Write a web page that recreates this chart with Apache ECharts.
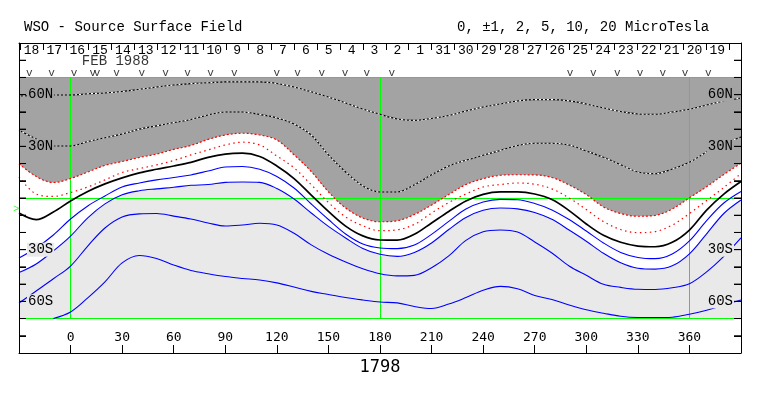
<!DOCTYPE html>
<html><head><meta charset="utf-8">
<script src="https://cdn.jsdelivr.net/npm/echarts@6/dist/echarts.min.js"></script>
<style>html,body{margin:0;padding:0;background:#fff}#c{width:763px;height:396px}</style>
</head><body><div id="c"></div>
<script>
// ---------- data ----------
const lons = [-30,-20,-10,0,10,20,30,40,50,60,70,80,90,100,110,120,130,140,150,160,170,180,190,200,210,220,230,240,250,260,270,280,290,300,310,320,330,340,350,360,370,380,390];
const contourPos10 = [59.2,59.5,59.8,59.8,60.5,61.0,61.8,63.1,64.4,65.6,66.4,66.9,67.4,67.4,67.4,66.5,64.5,61.7,58.6,55.2,51.7,48.6,45.9,45.1,46.2,47.9,50.5,52.8,54.6,56.3,57.1,57.1,56.4,54.6,52.3,50.2,48.8,48.6,49.9,51.5,54.0,56.3,58.1];
const contourPos5 = [39.3,34.3,30.2,30.2,32.8,35.0,37.2,40.0,41.9,43.8,45.6,48.2,49.9,49.9,48.5,46.5,43.0,36.6,25.0,15.1,7.0,3.5,3.5,7.7,13.5,18.6,21.9,24.8,27.6,30.5,31.8,31.8,30.8,27.3,23.6,19.3,15.1,14.1,16.8,20.7,26.7,31.4,35.4];
const contourPos2 = [19.9,12.5,9.0,11.3,15.1,18.9,21.2,23.5,25.5,28.2,30.5,34.0,36.6,37.6,36.6,33.7,25.1,15.4,3.6,-5.8,-11.6,-13.8,-13.2,-9.6,-4.1,2.0,7.8,11.2,13.2,13.5,13.4,11.9,7.6,2.0,-5.2,-9.0,-10.6,-10.1,-6.4,0.1,6.6,13.6,20.3];
const contourPos1 = [12.3,2.3,0.9,3.2,6.4,10.5,14.8,17.1,19.2,21.8,25.0,27.9,30.8,32.4,30.8,24.4,17.5,7.7,-2.6,-11.0,-16.1,-19.0,-18.5,-15.3,-8.7,-2.6,2.3,6.4,7.8,8.7,8.0,5.3,0,-6.7,-13.7,-18.3,-20.1,-19.5,-15.7,-9.0,-1.5,6.1,14.2];
const contourZero = [-8.7,-12.5,-8.1,-1.7,3.8,8.2,11.7,14.6,16.7,18.6,20.7,23.6,25.5,26.0,24.1,18.6,11.3,1.7,-7.8,-16.3,-22.0,-24.4,-24.5,-21.1,-14.5,-7.8,-1.7,2.1,3.5,3.5,2.3,-0.9,-7.3,-15.1,-21.7,-25.7,-27.9,-28.3,-25.7,-18.6,-7.0,2.3,9.6];
const contourNeg1 = [-34.8,-29.0,-21.5,-12.2,-4.6,1.2,6.4,8.7,10.5,11.9,13.4,15.7,18.0,18.3,16.7,12.5,5.8,-3.5,-12.5,-20.9,-26.7,-29.0,-29.4,-27.3,-21.1,-13.6,-6.4,-2.3,-0.8,-1.0,-3.2,-6.9,-12.5,-19.2,-26.1,-31.6,-34.5,-35.2,-32.5,-24.9,-13.1,-2.9,3.8];
const contourNeg2 = [-43.3,-38.3,-30.7,-22.1,-11.5,-3.4,1.9,4.2,5.3,6.2,7.4,7.8,9.1,9.3,9.1,5.5,-0.6,-8.7,-16.5,-23.2,-29.3,-32.7,-33.9,-31.6,-26.1,-18.3,-11.3,-7.1,-5.8,-6.3,-8.4,-12.4,-18.6,-25.1,-32.1,-37.6,-40.8,-41.3,-39.4,-32.4,-20.8,-9.0,-1.2];
const contourNeg5 = [-61.0,-54.0,-46.9,-39.5,-27.9,-17.4,-11.0,-9.2,-9.0,-10.5,-12.2,-14.5,-16.3,-15.7,-14.7,-15.7,-20.5,-27.2,-32.7,-37.2,-41.1,-44.0,-45.2,-44.9,-40.5,-33.6,-24.6,-19.6,-18.6,-19.8,-25.5,-31.9,-39.5,-44.9,-50.1,-51.9,-53.0,-53.1,-52.1,-49.8,-42.9,-33.9,-23.2];
const contourNeg10 = [null,null,-70.0,-66.2,-58.0,-48.7,-37.7,-33.4,-35.1,-38.9,-42.1,-44.0,-45.6,-46.7,-47.6,-49.3,-51.7,-54.2,-56.0,-57.8,-59.2,-60.4,-60.9,-63.0,-64.2,-61.6,-57.8,-53.6,-51.3,-52.7,-56.6,-58.9,-62.1,-64.9,-66.9,-68.7,-69.4,-69.4,-69.2,-67.5,-65.2,-62.1,-59.2];

const lonTickValues = [0,30,60,90,120,150,180,210,240,270,300,330,360];
const latTickValues = [-80,-70,-60,-50,-40,-30,-20,-10,0,10,20,30,40,50,60,70,80];
const latLabelValues = [60,30,-30,-60];
const latLabelTexts = ['60N','30N','30S','60S'];
const dayLabels = ['18','17','16','15','14','13','12','11','10','9','8','7','6','5','4','3','2','1','31','30','29','28','27','26','25','24','23','22','21','20','19'];
const dayStartLon = -29.4, dayStepLon = 13.3;
const obsMarkLons = [-24.0,-11.0,2.0,13.0,15.4,26.8,41.4,55.3,68.1,81.5,95.2,119.9,132.1,146.1,159.6,172.3,186.8,290.5,304.1,318.0,331.3,344.5,357.5,371.0];
const monthLabel = 'FEB 1988';
const rotationLabel = '1798';
const titleLeft = 'WSO - Source Surface Field';
const titleRight = '0, \u00b11, 2, 5, 10, 20 MicroTesla';
const refMeridians = [0,180,360];
const refLats = [70,0,-70];
const lonMin = -30, lonMax = 390, latMin = -90, latMax = 90, latStep = 10, plotLatMin = -70, plotLatMax = 70;

// ---------- layout / style ----------
const MONO = 'Liberation Mono';
const SANSMONO = 'DejaVu Sans Mono';
const DARK = '#a3a3a3', LIGHT = '#e9e9e9', GREEN = '#00ff00', BLUE = '#0000ff', RED = '#ff0000';
const GRID = {left:19, right:22, top:43, bottom:43};
const GRID_W = 763 - GRID.left - GRID.right;
const Y_TICK_LEN_PX = 7;
const yTickLenLon = Y_TICK_LEN_PX * (lonMax - lonMin) / GRID_W;
const snap = v => Math.round(v - 0.5) + 0.5;

const pts = arr => lons.map((x, i) => [x, arr[i]]);
const dayTickLons = [];
for (let k = 0; k <= dayLabels.length; k++) dayTickLons.push(+(dayStartLon + k * dayStepLon).toFixed(3));
const dayLabelLons = dayLabels.map((d, k) => +(dayStartLon + (k + 0.5) * dayStepLon).toFixed(3));

const series = [];
// fills
series.push({type:'line', data: pts(contourPos2), smooth:0.35, symbol:'none', silent:true, z:1,
  lineStyle:{width:0, opacity:0}, areaStyle:{color:DARK, opacity:1, origin: plotLatMax}});
series.push({type:'line', data: pts(contourNeg2), smooth:0.35, symbol:'none', silent:true, z:1,
  lineStyle:{width:0, opacity:0}, areaStyle:{color:LIGHT, opacity:1, origin: plotLatMin}});
// reference green lines (meridians then parallels), pixel-snapped
series.push({type:'custom', silent:true, z:2, data: refMeridians.map(m => [m, 0]), encode:{x:0, y:1},
  renderItem: (p, api) => { const a = api.coord([api.value(0), plotLatMin]), b = api.coord([api.value(0), plotLatMax]); const x = snap(a[0]);
    return {type:'line', shape:{x1:x, y1:a[1], x2:x, y2:b[1]}, style:{stroke:GREEN, lineWidth:1}}; }});
series.push({type:'custom', silent:true, z:2, data: refLats.map(l => [0, l]), encode:{x:0, y:1},
  renderItem: (p, api) => { const a = api.coord([lonMin, api.value(1)]), b = api.coord([lonMax, api.value(1)]); const y = snap(a[1]);
    return {type:'line', shape:{x1:a[0], y1:y, x2:b[0], y2:y}, style:{stroke:GREEN, lineWidth:1}}; }});
// contours
function contour(arr, style){ series.push({type:'line', data: pts(arr), smooth:0.35, symbol:'none', silent:true, z:3, connectNulls:false, lineStyle: style}); }
[contourPos10, contourPos5].forEach(a => { contour(a, {color:'#000', width:1.1}); contour(a, {color:'#fff', width:1.1, type:[2,2]}); });
contour(contourPos2, {color:RED, width:1.2, type:[2,2]});
contour(contourPos1, {color:RED, width:1.2, type:[1.5,3.5]});
contour(contourZero, {color:'#000', width:1.7});
[contourNeg1, contourNeg2, contourNeg5, contourNeg10].forEach(a => contour(a, {color:BLUE, width:1.1}));
// latitude ticks on both frame sides (short segments, broken by nulls)
const latTickSegs = [];
latTickValues.forEach(v => {
  latTickSegs.push([lonMin, v], [lonMin + yTickLenLon, v], [lonMin + yTickLenLon, null]);
  latTickSegs.push([lonMax - yTickLenLon, v], [lonMax, v], [lonMax, null]);
});
series.push({type:'line', data: latTickSegs, symbol:'none', silent:true, connectNulls:false, z:20,
  lineStyle:{color:'#000', width:1}});
// annotations
series.push({type:'scatter', data: obsMarkLons.map(x => [x, 72.6]), symbolSize:1, silent:true, z:4,
  itemStyle:{color:'rgba(0,0,0,0)'},
  label:{show:true, position:'inside', formatter:'v', fontFamily:MONO, fontSize:11, color:'#000'}});
series.push({type:'scatter', data: [[26.1, 79.2]], symbolSize:1, silent:true, z:4,
  itemStyle:{color:'rgba(0,0,0,0)'},
  label:{show:true, position:'inside', formatter: monthLabel, fontFamily:MONO, fontSize:14, color:'#000'}});
series.push({type:'scatter', data: [[-31.6, -6.5]], symbolSize:1, silent:true, z:4, clip:false,
  itemStyle:{color:'rgba(0,0,0,0)'},
  label:{show:true, position:'inside', formatter: '>', fontFamily:MONO, fontSize:10, color:GREEN}});

const latRich = {
  n:{fontFamily:MONO, fontSize:14, color:'#000', backgroundColor:DARK, padding:[0,1]},
  s:{fontFamily:MONO, fontSize:14, color:'#000', backgroundColor:LIGHT, padding:[0,1]}
};
const latFmt = v => { const i = latLabelValues.indexOf(v); if (i < 0) return ''; return (v > 0 ? '{n|' : '{s|') + latLabelTexts[i] + '}'; };
function yAx(pos, margin){
  return {type:'value', position:pos, min:latMin, max:latMax, interval:latStep, z:5,
    splitLine:{show:false},
    axisLine:{show:true, onZero:false, lineStyle:{color:'#000', width:1}},
    axisTick:{show:true, inside:true, length:Y_TICK_LEN_PX, lineStyle:{color:'#000', width:1}},
    axisLabel:{show:true, inside:true, margin:margin, formatter: latFmt, rich: latRich}};
}

const option = {
  animation:false,
  backgroundColor:'#fff',
  title:[
    {text:titleLeft, left:24, top:20, padding:0, textStyle:{fontFamily:MONO, fontSize:14, fontWeight:'normal', color:'#000'}},
    {text:titleRight, left:457, top:20, padding:0, textStyle:{fontFamily:MONO, fontSize:14, fontWeight:'normal', color:'#000'}}
  ],
  grid:{left:GRID.left, right:GRID.right, top:GRID.top, bottom:GRID.bottom, show:false, containLabel:false, outerBoundsMode:'none'},
  xAxis:[
    {type:'value', position:'bottom', min:lonMin, max:lonMax, splitLine:{show:false}, z:5,
     axisLine:{show:true, onZero:false, lineStyle:{color:'#000'}},
     axisTick:{show:true, inside:true, length:8, customValues: lonTickValues, lineStyle:{color:'#000'}},
     axisLabel:{show:true, inside:true, margin:9, customValues: lonTickValues, fontFamily:SANSMONO, fontSize:13, color:'#000'},
     name: rotationLabel, nameLocation:'middle', nameGap:6,
     nameTextStyle:{fontFamily:SANSMONO, fontSize:17, color:'#000', verticalAlign:'top'}},
    {type:'value', position:'top', min:lonMin, max:lonMax, splitLine:{show:false}, z:5,
     axisLine:{show:true, onZero:false, lineStyle:{color:'#000'}},
     axisTick:{show:true, inside:true, length:7, customValues: dayTickLons, lineStyle:{color:'#000'}},
     axisLabel:{show:true, inside:true, margin:1, customValues: dayLabelLons, fontFamily:MONO, fontSize:13, color:'#000',
       formatter: v => { const i = dayLabelLons.indexOf(v); return i < 0 ? '' : dayLabels[i]; }}}
  ],
  yAxis:[ yAx('left', 8), yAx('right', 7) ],
  series: series
};
const chart = echarts.init(document.getElementById('c'), null, {renderer:'canvas'});
chart.setOption(option);
</script>
</body></html>
